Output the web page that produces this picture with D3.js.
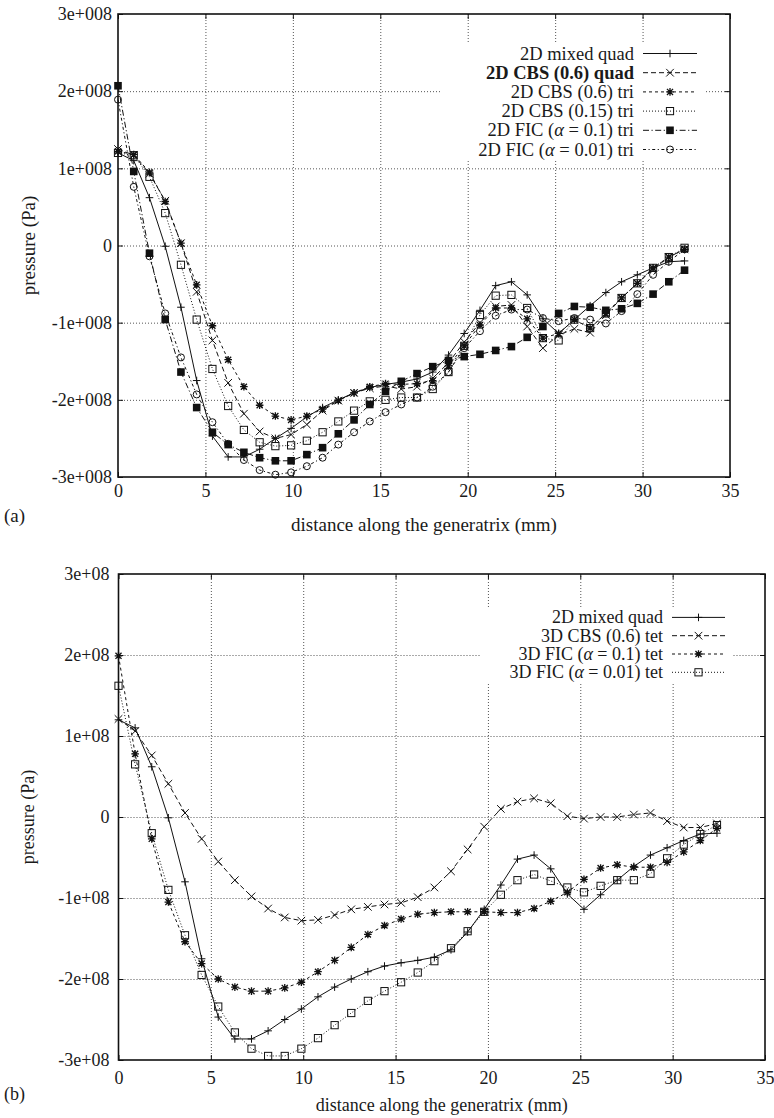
<!DOCTYPE html>
<html><head><meta charset="utf-8">
<script src="https://cdn.jsdelivr.net/npm/d3@7"></script>
<style>
body{margin:0;background:#fff}
svg{display:block;background:#fff}
</style>
</head><body>
<svg id="c" width="774" height="1118" font-family="'Liberation Serif', 'Times New Roman', 'DejaVu Serif', serif" style="font-family:'Liberation Serif','Times New Roman','DejaVu Serif',serif"></svg>
<script>
const SERIF = "'Liberation Serif','Times New Roman','DejaVu Serif',serif";
// distance along the generatrix (mm)
const distance = [0,0.9,1.8,2.7,3.6,4.5,5.4,6.3,7.2,8.1,9.0,9.9,10.8,11.7,12.6,13.5,14.4,15.3,16.2,17.1,18.0,18.9,19.8,20.7,21.6,22.5,23.4,24.3,25.2,26.1,27.0,27.9,28.8,29.7,30.6,31.5,32.4];
// pressure values, in units of 1e8 Pa
const mixedQuad2D = [1.20,1.10,0.62,-0.01,-0.80,-1.75,-2.47,-2.74,-2.74,-2.64,-2.50,-2.37,-2.22,-2.10,-2.00,-1.91,-1.84,-1.80,-1.77,-1.73,-1.64,-1.42,-1.14,-0.84,-0.52,-0.47,-0.64,-0.95,-1.14,-0.96,-0.78,-0.61,-0.47,-0.38,-0.29,-0.21,-0.20];
const cbsQuad06 = [1.25,1.17,0.93,0.58,0.03,-0.60,-1.23,-1.78,-2.18,-2.41,-2.50,-2.45,-2.32,-2.14,-2.01,-1.91,-1.85,-1.82,-1.86,-1.83,-1.72,-1.52,-1.25,-1.00,-0.79,-0.77,-1.05,-1.33,-1.16,-1.08,-1.13,-0.90,-0.68,-0.49,-0.31,-0.15,-0.05];
const cbsTri06 = [1.22,1.18,0.95,0.57,0.03,-0.51,-1.04,-1.48,-1.83,-2.07,-2.21,-2.26,-2.21,-2.12,-2.01,-1.91,-1.83,-1.79,-1.80,-1.79,-1.75,-1.56,-1.30,-1.03,-0.81,-0.81,-0.95,-1.20,-1.14,-0.96,-1.07,-0.88,-0.68,-0.49,-0.29,-0.15,-0.05];
const cbsTri015 = [1.20,1.17,0.89,0.42,-0.25,-0.96,-1.60,-2.08,-2.39,-2.55,-2.60,-2.59,-2.53,-2.42,-2.28,-2.14,-2.02,-2.00,-1.97,-1.97,-1.86,-1.64,-1.30,-0.90,-0.65,-0.64,-0.81,-1.20,-1.23,-0.96,-1.07,-0.88,-0.68,-0.49,-0.29,-0.15,-0.03];
const ficTri01 = [2.07,0.96,-0.10,-0.96,-1.64,-2.10,-2.42,-2.58,-2.68,-2.75,-2.79,-2.79,-2.71,-2.62,-2.44,-2.26,-2.06,-1.89,-1.76,-1.66,-1.57,-1.49,-1.44,-1.41,-1.36,-1.31,-1.19,-1.05,-0.88,-0.79,-0.80,-0.84,-0.82,-0.75,-0.63,-0.47,-0.32];
const ficTri001 = [1.89,0.76,-0.14,-0.88,-1.45,-1.93,-2.29,-2.57,-2.78,-2.91,-2.97,-2.94,-2.86,-2.75,-2.58,-2.42,-2.28,-2.16,-2.06,-1.97,-1.83,-1.64,-1.33,-1.11,-0.91,-0.83,-0.83,-0.94,-0.98,-0.94,-0.96,-1.01,-0.85,-0.63,-0.38,-0.21,-0.05];
const cbsTet06 = [1.21,1.06,0.76,0.41,0.05,-0.27,-0.55,-0.78,-0.98,-1.13,-1.24,-1.28,-1.27,-1.21,-1.14,-1.11,-1.08,-1.06,-0.99,-0.87,-0.67,-0.40,-0.12,0.10,0.19,0.23,0.17,0.01,-0.02,0.00,0.00,0.03,0.05,-0.05,-0.13,-0.13,-0.08];
const ficTet01 = [1.99,0.78,-0.27,-1.05,-1.54,-1.81,-2.00,-2.10,-2.15,-2.15,-2.11,-2.04,-1.91,-1.77,-1.61,-1.45,-1.34,-1.26,-1.20,-1.18,-1.17,-1.17,-1.17,-1.18,-1.18,-1.13,-1.04,-0.93,-0.77,-0.63,-0.59,-0.62,-0.62,-0.56,-0.43,-0.29,-0.14];
const ficTet001 = [1.62,0.65,-0.20,-0.90,-1.46,-1.95,-2.34,-2.66,-2.86,-2.95,-2.95,-2.86,-2.73,-2.57,-2.42,-2.27,-2.15,-2.04,-1.92,-1.78,-1.62,-1.41,-1.17,-0.96,-0.78,-0.71,-0.79,-0.87,-0.93,-0.85,-0.78,-0.78,-0.70,-0.51,-0.34,-0.21,-0.10];

const xTicks = [0,5,10,15,20,25,30,35];
const xTickLabels = ["0","5","10","15","20","25","30","35"];
const yTicks = [-3e8,-2e8,-1e8,0,1e8,2e8,3e8];
const yTickLabelsA = ["-3e+008","-2e+008","-1e+008","0","1e+008","2e+008","3e+008"];
const yTickLabelsB = ["-3e+08","-2e+08","-1e+08","0","1e+08","2e+08","3e+08"];
const legendA = ["2D mixed quad","2D CBS (0.6) quad","2D CBS (0.6) tri","2D CBS (0.15) tri","2D FIC (α = 0.1) tri","2D FIC (α = 0.01) tri"];
const legendB = ["2D mixed quad","3D CBS (0.6) tet","3D FIC (α = 0.1) tet","3D FIC (α = 0.01) tet"];

const dashes = {solid:null, dash:"5,3", short:"3,3", dot:"1,2", dashdot:"6,2.5,1.2,2.5", dashdot2:"3,2.5,1.2,2.5"};

function serif(sel){ return sel.attr("font-family",SERIF).style("font-family",SERIF).attr("fill","#1a1a1a"); }

function marker(sel, type){
  const s = 3.8;
  if(type==="plus") sel.append("path").attr("d",`M${-s},0H${s}M0,${-s}V${s}`).attr("stroke","#111").attr("fill","none");
  else if(type==="cross") sel.append("path").attr("d",`M${-s},${-s}L${s},${s}M${-s},${s}L${s},${-s}`).attr("stroke","#111").attr("fill","none");
  else if(type==="star") sel.append("path").attr("d",`M${-s},0H${s}M0,${-s}V${s}M${-s*0.8},${-s*0.8}L${s*0.8},${s*0.8}M${-s*0.8},${s*0.8}L${s*0.8},${-s*0.8}`).attr("stroke","#111").attr("stroke-width",1.3).attr("fill","none");
  else if(type==="box") sel.append("rect").attr("x",-3.6).attr("y",-3.6).attr("width",7.2).attr("height",7.2).attr("stroke","#111").attr("fill","none");
  else if(type==="fbox") sel.append("rect").attr("x",-3.8).attr("y",-3.8).attr("width",7.6).attr("height",7.6).attr("fill","#111");
  else if(type==="circle") sel.append("circle").attr("r",3.5).attr("stroke","#111").attr("fill","none");
}

function legendText(sel, label){
  const parts = label.split("α");
  sel.append("tspan").text(parts[0]);
  if(parts.length>1){
    sel.append("tspan").attr("font-style","italic").text("α");
    sel.append("tspan").text(parts[1]);
  }
}

function drawPanel(cfg){
  const svg = d3.select("#c");
  const g = svg.append("g");
  const x = d3.scaleLinear().domain([0,35]).range([cfg.left,cfg.right]);
  const y = d3.scaleLinear().domain([-3e8,3e8]).range([cfg.bottom,cfg.top]);
  const W = cfg.right-cfg.left, H = cfg.bottom-cfg.top;

  // grid
  g.append("g").attr("transform",`translate(0,${cfg.bottom})`)
    .call(d3.axisBottom(x).tickValues(xTicks.slice(1,-1)).tickSize(-H).tickFormat(""))
    .call(s=>{s.select(".domain").remove(); s.selectAll("line").attr("stroke","#555").attr("stroke-dasharray","1,2");});
  g.append("g").attr("transform",`translate(${cfg.left},0)`)
    .call(d3.axisLeft(y).tickValues(yTicks.slice(1,-1)).tickSize(-W).tickFormat(""))
    .call(s=>{s.select(".domain").remove(); s.selectAll("line").attr("stroke","#555").attr("stroke-dasharray","1,2");});

  // legend background
  g.append("rect").attr("x",cfg.legend.x0).attr("y",cfg.legend.y0)
    .attr("width",cfg.legend.x1-cfg.legend.x0).attr("height",cfg.legend.y1-cfg.legend.y0).attr("fill","#fff");

  // series
  const line = d3.line().x((d,i)=>x(distance[i])).y(d=>y(d*1e8));
  cfg.series.forEach(sr=>{
    const p = g.append("path").datum(sr.values).attr("d",line).attr("fill","none").attr("stroke","#111").attr("stroke-width",1);
    if(dashes[sr.dash]) p.attr("stroke-dasharray",dashes[sr.dash]);
    const m = g.append("g");
    sr.values.forEach((v,i)=>{
      const mg = m.append("g").attr("transform",`translate(${x(distance[i])},${y(v*1e8)})`);
      marker(mg, sr.marker);
    });
  });

  // legend entries
  cfg.series.forEach((sr,i)=>{
    const yy = cfg.legend.row0 + i*cfg.legend.dy;
    const t = serif(g.append("text")).attr("x",cfg.legend.textEnd).attr("y",yy+6).attr("text-anchor","end")
      .attr("font-size",cfg.legend.fs).attr("font-weight",sr.bold?"bold":"normal");
    legendText(t, sr.label);
    const p = g.append("line").attr("x1",cfg.legend.s0).attr("x2",cfg.legend.s1).attr("y1",yy).attr("y2",yy)
      .attr("stroke","#111").attr("stroke-width",1);
    if(dashes[sr.dash]) p.attr("stroke-dasharray",dashes[sr.dash]);
    const mg = g.append("g").attr("transform",`translate(${(cfg.legend.s0+cfg.legend.s1)/2},${yy})`);
    marker(mg, sr.marker);
  });

  // axes with inward ticks
  const ax = (gen)=>gen.tickSizeOuter(0);
  g.append("g").attr("transform",`translate(0,${cfg.bottom})`)
    .call(ax(d3.axisBottom(x).tickValues(xTicks).tickFormat((d,i)=>xTickLabels[i]).tickSizeInner(-5).tickPadding(cfg.xPad)))
    .call(s=>{s.select(".domain").remove(); s.selectAll("line").attr("stroke","#111");
      serif(s.selectAll("text")).attr("font-size",cfg.fs);})
    .attr("font-family",SERIF).attr("font-size",cfg.fs);
  g.append("g").attr("transform",`translate(0,${cfg.top})`)
    .call(ax(d3.axisTop(x).tickValues(xTicks).tickFormat("").tickSizeInner(-5)))
    .call(s=>{s.select(".domain").remove(); s.selectAll("line").attr("stroke","#111");});
  g.append("g").attr("transform",`translate(${cfg.left},0)`)
    .call(ax(d3.axisLeft(y).tickValues(yTicks).tickFormat((d,i)=>cfg.yLabels[i]).tickSizeInner(-5).tickPadding(cfg.yPad)))
    .call(s=>{s.select(".domain").remove(); s.selectAll("line").attr("stroke","#111");
      serif(s.selectAll("text")).attr("font-size",cfg.fs);})
    .attr("font-family",SERIF).attr("font-size",cfg.fs);
  g.append("g").attr("transform",`translate(${cfg.right},0)`)
    .call(ax(d3.axisRight(y).tickValues(yTicks).tickFormat("").tickSizeInner(-5)))
    .call(s=>{s.select(".domain").remove(); s.selectAll("line").attr("stroke","#111");});

  // border
  g.append("rect").attr("x",cfg.left).attr("y",cfg.top).attr("width",W).attr("height",H)
    .attr("fill","none").attr("stroke","#111").attr("stroke-width",1.6);

  // titles
  serif(g.append("text")).attr("x",(cfg.left+cfg.right)/2).attr("y",cfg.xTitleY).attr("text-anchor","middle")
    .attr("font-size",cfg.titleFs).text("distance along the generatrix (mm)");
  serif(g.append("text")).attr("transform",`translate(${cfg.yTitleX},${(cfg.top+cfg.bottom)/2}) rotate(-90)`)
    .attr("text-anchor","middle").attr("dy","0.35em").attr("font-size",cfg.titleFs).text("pressure (Pa)");
  serif(g.append("text")).attr("x",4).attr("y",cfg.tagY).attr("font-size",cfg.titleFs).text(cfg.tag);
}

drawPanel({
  left:118, right:730, top:14, bottom:477,
  fs:18, titleFs:19, xPad:7, yPad:6, xTitleY:531, yTitleX:28, tagY:522, tag:"(a)",
  yLabels:yTickLabelsA,
  legend:{x0:440,x1:705,y0:43,y1:159,row0:53.5,dy:19.2,textEnd:634,s0:643,s1:697,fs:18.5},
  series:[
    {label:legendA[0], values:mixedQuad2D, dash:"solid", marker:"plus"},
    {label:legendA[1], values:cbsQuad06, dash:"dash", marker:"cross", bold:true},
    {label:legendA[2], values:cbsTri06, dash:"short", marker:"star"},
    {label:legendA[3], values:cbsTri015, dash:"dot", marker:"box"},
    {label:legendA[4], values:ficTri01, dash:"dashdot", marker:"fbox"},
    {label:legendA[5], values:ficTri001, dash:"dashdot2", marker:"circle"}
  ]
});

drawPanel({
  left:118.5, right:765, top:574, bottom:1060,
  fs:18, titleFs:18, xPad:11, yPad:9, xTitleY:1111, yTitleX:28, tagY:1100, tag:"(b)",
  yLabels:yTickLabelsB,
  legend:{x0:480,x1:733,y0:607,y1:682,row0:617.4,dy:18.3,textEnd:663,s0:672,s1:725,fs:18},
  series:[
    {label:legendB[0], values:mixedQuad2D, dash:"solid", marker:"plus"},
    {label:legendB[1], values:cbsTet06, dash:"dash", marker:"cross"},
    {label:legendB[2], values:ficTet01, dash:"short", marker:"star"},
    {label:legendB[3], values:ficTet001, dash:"dot", marker:"box"}
  ]
});
</script>
</body></html>
